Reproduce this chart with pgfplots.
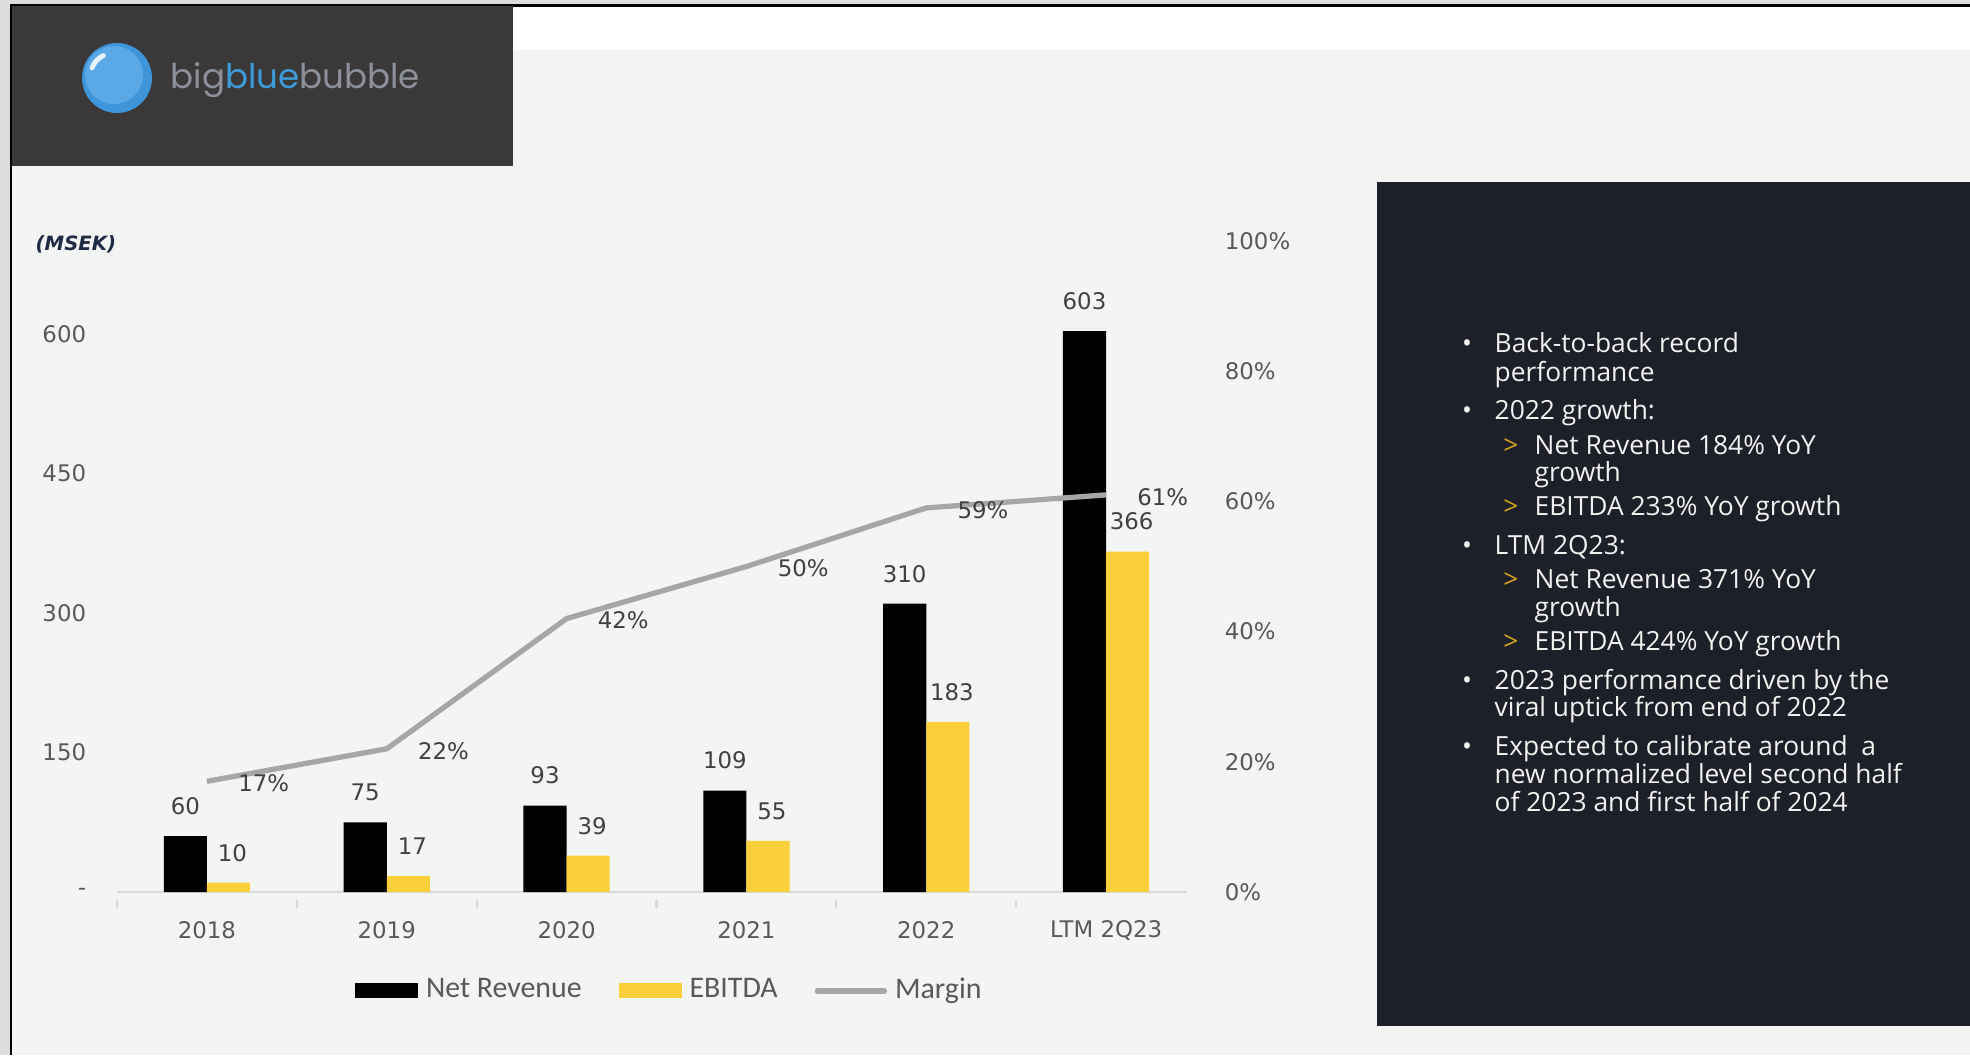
\documentclass[border=0pt]{standalone}
\usepackage{pgfplots}
\pgfplotsset{compat=1.18}
\usepackage{fontspec}
\setmainfont{DejaVu Sans}
\newfontfamily\legfont{Carlito}
\newfontfamily\panelfont{Open Sans}
\newfontfamily\logofont{Poppins}

\definecolor{slidebg}{HTML}{F3F4F4}
\definecolor{framegray}{HTML}{DCDCDC}
\definecolor{logobg}{HTML}{3A3839}
\definecolor{panelbg}{HTML}{1D2028}
\definecolor{paneltext}{HTML}{F2F2F2}
\definecolor{gold}{HTML}{D9A520}
\definecolor{ebitda}{HTML}{F9D03A}
\definecolor{margin}{HTML}{A6A6A6}
\definecolor{ticktext}{HTML}{595959}
\definecolor{labeltext}{HTML}{404040}
\definecolor{axisgray}{HTML}{D9D9D9}
\definecolor{msek}{HTML}{1F2A44}
\definecolor{bubbleblue}{HTML}{3E95DA}
\definecolor{bubblelight}{HTML}{5AA8E6}
\definecolor{logogray}{HTML}{8C9099}
\definecolor{logoblue}{HTML}{3D9BD9}

\pgfplotsset{
  /pgf/number format/assume math mode=true,
  barlegend/.style={legend image code/.code={\fill[##1, draw=none] (0mm,-0.75mm) rectangle (6.3mm,0.75mm);}},
  linelegend/.style={legend image code/.code={\draw[##1, line cap=round] (0mm,0mm) -- (6.7mm,0mm);}},
  slideaxis/.style={
    at={(11.7mm,16.3mm)}, anchor=south west, scale only axis,
    width=107mm, height=65.1mm,
    xmin=-0.5, xmax=5.45,
    ticklabel style={font=\fontsize{6.5}{7}\selectfont, text=ticktext},
  },
}

\tikzset{pt/.style={inner sep=0pt, text=paneltext, font=\panelfont\fontsize{7.5}{8}\selectfont}}

\begin{document}
\begin{tikzpicture}[x=0.1mm, y=0.1mm]
\useasboundingbox (0,0) rectangle (1970,1055);
% slide background and frame
\fill[slidebg] (0,0) rectangle (1970,1055);
\fill[framegray] (0,1050) rectangle (1970,1055);
\fill[framegray] (0,0) rectangle (10,1055);
\fill[white] (513,1005) rectangle (1970,1049);
\draw[black, line width=0.6pt] (11,0) -- (11,1049.5) -- (1970,1049.5);
\fill[logobg] (12,889) rectangle (513,1049);
\fill[panelbg] (1377,29) rectangle (1970,873);

% logo
\fill[bubbleblue] (117,977) circle (35);
\fill[bubblelight] (114,980) circle (29);
\draw[white, opacity=0.85, line width=1.4pt, line cap=round] (92,987) arc (160:115:22);
\node[anchor=west, inner sep=0pt, font=\logofont\fontsize{9.7}{11}\selectfont] at (170,975)
  {\textcolor{logogray}{big}\textcolor{logoblue}{blue}\textcolor{logogray}{bubble}};

% unit label
\node[anchor=west, inner sep=0pt, text=msek, font=\fontsize{5.6}{7}\selectfont\bfseries\itshape] at (35,811) {(MSEK)};

% bars
\begin{axis}[slideaxis,
  ymin=0, ymax=700,
  axis x line*=bottom, axis y line*=left,
  y axis line style={draw=none}, ytick style={draw=none},
  x axis line style={draw=axisgray, line width=0.6pt},
  xtick={0,...,5}, xticklabels={2018,2019,2020,2021,2022,LTM 2Q23},
  major x tick style={draw=none},
  minor xtick={-0.5,0.5,1.5,2.5,3.5,4.5},
  minor x tick style={draw=axisgray, line width=0.6pt, yshift=-0.8mm},
  minor tick length=0.8mm,
  xticklabel style={anchor=center, yshift=-2.35mm},
  ytick={0,150,300,450,600}, yticklabels={-,150,300,450,600},
  yticklabel style={xshift=-1.85mm},
  ybar, bar width=0.24,
  nodes near coords,
  every node near coord/.append style={anchor=center, yshift=3mm,
    font=\fontsize{6.5}{7}\selectfont, text=labeltext},
]
\addplot[fill=black, draw=none, bar shift=-0.12] coordinates {
  (0,60) (1,75) (2,93) (3,109) (4,310) (5,603)};
\addplot[fill=ebitda, draw=none, bar shift=0.12,
  every node near coord/.append style={xshift=0.4mm}] coordinates {
  (0,10) (1,17) (2,39) (3,55) (4,183) (5,366)};
\end{axis}

% margin line
\begin{axis}[slideaxis,
  ymin=0, ymax=100,
  axis x line=none, axis y line*=right,
  y axis line style={draw=none}, ytick style={draw=none},
  ytick={0,20,40,60,80,100},
  yticklabel={\pgfmathprintnumber{\tick}\%},
  yticklabel style={xshift=2.55mm},
  legend columns=3,
  legend style={draw=none, fill=none, at={(0.519,-0.152)}, anchor=center,
    font=\legfont\fontsize{8.5}{9}\selectfont, text=ticktext,
    nodes={inner xsep=0.8mm},
    /tikz/every even column/.append style={column sep=2.9mm}},
]
\addlegendimage{barlegend, fill=black}
\addlegendentry{Net Revenue}
\addlegendimage{barlegend, fill=ebitda}
\addlegendentry{EBITDA}
\addplot[margin, line width=1.5pt, linelegend,
  nodes near coords={\pgfmathprintnumber{\pgfplotspointmeta}\%}, point meta=y,
  every node near coord/.append style={anchor=west, xshift=1.7mm, yshift=-0.2mm,
    font=\fontsize{6.5}{7}\selectfont, text=labeltext}] coordinates {
  (0,17) (1,22) (2,42) (3,50) (4,59) (5,61)};
\addlegendentry{Margin}
\end{axis}

% commentary panel
\node[pt, anchor=mid] at (1467,712) {•};
\node[pt, anchor=mid west] at (1494,712) {Back-to-back record};
\node[pt, anchor=mid west] at (1494,683) {performance};
\node[pt, anchor=mid] at (1467,645) {•};
\node[pt, anchor=mid west] at (1494,645) {2022 growth:};
\node[pt, anchor=mid, text=gold] at (1511,610) {>};
\node[pt, anchor=mid west] at (1534,610) {Net Revenue 184\% YoY};
\node[pt, anchor=mid west] at (1534,583) {growth};
\node[pt, anchor=mid, text=gold] at (1511,549) {>};
\node[pt, anchor=mid west] at (1534,549) {EBITDA 233\% YoY growth};
\node[pt, anchor=mid] at (1467,510) {•};
\node[pt, anchor=mid west] at (1494,510) {LTM 2Q23:};
\node[pt, anchor=mid, text=gold] at (1511,476) {>};
\node[pt, anchor=mid west] at (1534,476) {Net Revenue 371\% YoY};
\node[pt, anchor=mid west] at (1534,448) {growth};
\node[pt, anchor=mid, text=gold] at (1511,414) {>};
\node[pt, anchor=mid west] at (1534,414) {EBITDA 424\% YoY growth};
\node[pt, anchor=mid] at (1467,375) {•};
\node[pt, anchor=mid west] at (1494,375) {2023 performance driven by the};
\node[pt, anchor=mid west] at (1494,348) {viral uptick from end of 2022};
\node[pt, anchor=mid] at (1467,309) {•};
\node[pt, anchor=mid west] at (1494,309) {Expected to calibrate around \ a};
\node[pt, anchor=mid west] at (1494,281) {new normalized level second half};
\node[pt, anchor=mid west] at (1494,253) {of 2023 and first half of 2024};
\end{tikzpicture}
\end{document}
